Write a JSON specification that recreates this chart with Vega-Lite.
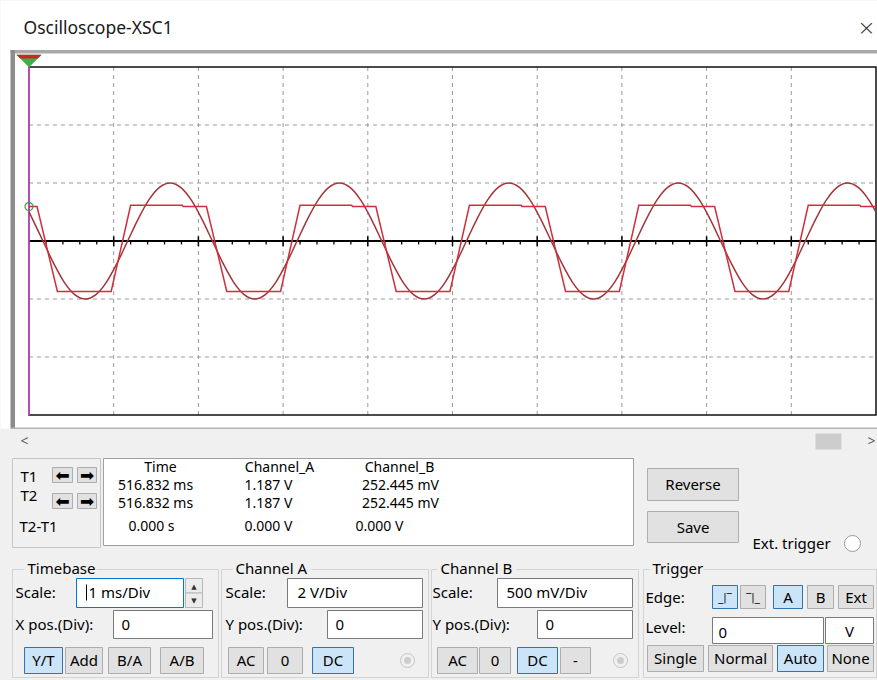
{
  "$schema": "https://vega.github.io/schema/vega-lite/v6.json",
  "width": 877,
  "height": 680,
  "padding": 0,
  "autosize": {"type": "none"},
  "background": "#f0f0f0",
  "config": {"view": {"stroke": null}, "text": {"font": "Noto Sans"}},
  "datasets": {
    "boxes": [
      {"x": 0, "x2": 877, "y": 0, "y2": 428, "kind": "white"},
      {"x": 10, "x2": 877, "y": 49.5, "y2": 53, "kind": "frameline"},
      {"x": 10, "x2": 14.5, "y": 49.5, "y2": 428, "kind": "leftbar"},
      {"x": 10, "x2": 877, "y": 427, "y2": 428.5, "kind": "hline"},
      {"x": 815, "x2": 841, "y": 433, "y2": 449, "kind": "thumb"},
      {"x": 12, "x2": 100, "y": 458, "y2": 547, "kind": "panelbox"},
      {"x": 103, "x2": 633, "y": 458, "y2": 545, "kind": "sunken"},
      {"x": 52, "x2": 72, "y": 467, "y2": 482, "kind": "button"},
      {"x": 77, "x2": 96, "y": 467, "y2": 482, "kind": "button"},
      {"x": 52, "x2": 72, "y": 493, "y2": 508, "kind": "button"},
      {"x": 77, "x2": 96, "y": 493, "y2": 508, "kind": "button"},
      {"x": 647, "x2": 738, "y": 468, "y2": 500, "kind": "button"},
      {"x": 647, "x2": 738, "y": 511, "y2": 542, "kind": "button"},
      {"x": 12, "x2": 218, "y": 569, "y2": 677, "kind": "group"},
      {"x": 221, "x2": 428, "y": 569, "y2": 677, "kind": "group"},
      {"x": 431, "x2": 638, "y": 569, "y2": 677, "kind": "group"},
      {"x": 643, "x2": 876, "y": 569, "y2": 677, "kind": "group"},
      {"x": 24, "x2": 96, "y": 561, "y2": 577, "kind": "labelbg"},
      {"x": 232, "x2": 311, "y": 561, "y2": 577, "kind": "labelbg"},
      {"x": 437, "x2": 516, "y": 561, "y2": 577, "kind": "labelbg"},
      {"x": 649, "x2": 703, "y": 561, "y2": 577, "kind": "labelbg"},
      {"x": 76, "x2": 183, "y": 578, "y2": 607, "kind": "focus"},
      {"x": 185, "x2": 202, "y": 578, "y2": 592.5, "kind": "spin"},
      {"x": 185, "x2": 202, "y": 592.5, "y2": 607, "kind": "spin"},
      {"x": 113, "x2": 212, "y": 610, "y2": 638, "kind": "input"},
      {"x": 287, "x2": 422, "y": 578, "y2": 607, "kind": "input"},
      {"x": 327, "x2": 422, "y": 610, "y2": 638, "kind": "input"},
      {"x": 497, "x2": 632, "y": 578, "y2": 607, "kind": "input"},
      {"x": 537, "x2": 632, "y": 610, "y2": 638, "kind": "input"},
      {"x": 712, "x2": 823, "y": 617, "y2": 643, "kind": "input"},
      {"x": 825, "x2": 873, "y": 617, "y2": 643, "kind": "input"},
      {"x": 24, "x2": 62, "y": 647, "y2": 673, "kind": "pressed"},
      {"x": 65, "x2": 102, "y": 647, "y2": 673, "kind": "button"},
      {"x": 108, "x2": 150, "y": 647, "y2": 673, "kind": "button"},
      {"x": 160, "x2": 203, "y": 647, "y2": 673, "kind": "button"},
      {"x": 228, "x2": 263, "y": 647, "y2": 673, "kind": "button"},
      {"x": 267, "x2": 302, "y": 647, "y2": 673, "kind": "button"},
      {"x": 312, "x2": 353, "y": 647, "y2": 673, "kind": "pressed"},
      {"x": 437, "x2": 477, "y": 647, "y2": 673, "kind": "button"},
      {"x": 479, "x2": 510, "y": 647, "y2": 673, "kind": "button"},
      {"x": 517, "x2": 557, "y": 647, "y2": 673, "kind": "pressed"},
      {"x": 560, "x2": 590, "y": 647, "y2": 673, "kind": "button"},
      {"x": 647, "x2": 703, "y": 645, "y2": 671, "kind": "button"},
      {"x": 708, "x2": 772, "y": 645, "y2": 671, "kind": "button"},
      {"x": 777, "x2": 823, "y": 645, "y2": 671, "kind": "pressed"},
      {"x": 827, "x2": 873, "y": 645, "y2": 671, "kind": "button"},
      {"x": 712, "x2": 737, "y": 585, "y2": 608, "kind": "pressed"},
      {"x": 740, "x2": 765, "y": 585, "y2": 608, "kind": "button"},
      {"x": 773, "x2": 802, "y": 585, "y2": 608, "kind": "pressed"},
      {"x": 807, "x2": 833, "y": 585, "y2": 608, "kind": "button"},
      {"x": 838, "x2": 873, "y": 585, "y2": 608, "kind": "button"},
      {"x": 85.5, "x2": 86.5, "y": 584, "y2": 600, "kind": "caret"}
    ],
    "labels": [
      {"text": "Oscilloscope-XSC1", "x": 23, "y": 28, "role": "title"},
      {"text": "×", "x": 866, "y": 27, "role": "close"},
      {"text": "<", "x": 24, "y": 441, "role": "scroll"},
      {"text": ">", "x": 871, "y": 441, "role": "scroll"},
      {"text": "T1", "x": 20, "y": 476, "role": "label"},
      {"text": "T2", "x": 20, "y": 495, "role": "label"},
      {"text": "T2-T1", "x": 19, "y": 526, "role": "label"},
      {"text": "Timebase", "x": 27, "y": 568, "role": "label"},
      {"text": "Channel A", "x": 235, "y": 568, "role": "label"},
      {"text": "Channel B", "x": 440, "y": 568, "role": "label"},
      {"text": "Trigger", "x": 652, "y": 568, "role": "label"},
      {"text": "Scale:", "x": 15, "y": 592, "role": "label"},
      {"text": "X pos.(Div):", "x": 15, "y": 624, "role": "label"},
      {"text": "Scale:", "x": 225, "y": 592, "role": "label"},
      {"text": "Y pos.(Div):", "x": 225, "y": 624, "role": "label"},
      {"text": "Scale:", "x": 432, "y": 592, "role": "label"},
      {"text": "Y pos.(Div):", "x": 432, "y": 624, "role": "label"},
      {"text": "Edge:", "x": 645, "y": 597, "role": "label"},
      {"text": "Level:", "x": 645, "y": 627, "role": "label"},
      {"text": "1 ms/Div", "x": 88, "y": 592, "role": "label"},
      {"text": "0", "x": 121, "y": 624, "role": "label"},
      {"text": "2  V/Div", "x": 297, "y": 592, "role": "label"},
      {"text": "0", "x": 335, "y": 624, "role": "label"},
      {"text": "500 mV/Div", "x": 506, "y": 592, "role": "label"},
      {"text": "0", "x": 545, "y": 624, "role": "label"},
      {"text": "0", "x": 718, "y": 632, "role": "label"},
      {"text": "Ext. trigger", "x": 752, "y": 543, "role": "label"},
      {"text": "Time", "x": 160, "y": 467, "role": "readout"},
      {"text": "516.832 ms", "x": 155, "y": 485, "role": "readout"},
      {"text": "516.832 ms", "x": 155, "y": 503, "role": "readout"},
      {"text": "0.000 s", "x": 151, "y": 526, "role": "readout"},
      {"text": "Channel_A", "x": 279, "y": 467, "role": "readout"},
      {"text": "1.187 V", "x": 268, "y": 485, "role": "readout"},
      {"text": "1.187 V", "x": 268, "y": 503, "role": "readout"},
      {"text": "0.000 V", "x": 268, "y": 526, "role": "readout"},
      {"text": "Channel_B", "x": 399, "y": 467, "role": "readout"},
      {"text": "252.445 mV", "x": 400, "y": 485, "role": "readout"},
      {"text": "252.445 mV", "x": 400, "y": 503, "role": "readout"},
      {"text": "0.000 V", "x": 379, "y": 526, "role": "readout"},
      {"text": "Y/T", "x": 43, "y": 660, "role": "center"},
      {"text": "Add", "x": 83.5, "y": 660, "role": "center"},
      {"text": "B/A", "x": 129, "y": 660, "role": "center"},
      {"text": "A/B", "x": 181.5, "y": 660, "role": "center"},
      {"text": "AC", "x": 245.5, "y": 660, "role": "center"},
      {"text": "0", "x": 284.5, "y": 660, "role": "center"},
      {"text": "DC", "x": 332.5, "y": 660, "role": "center"},
      {"text": "AC", "x": 457, "y": 660, "role": "center"},
      {"text": "0", "x": 494.5, "y": 660, "role": "center"},
      {"text": "DC", "x": 537, "y": 660, "role": "center"},
      {"text": "-", "x": 575, "y": 660, "role": "center"},
      {"text": "Single", "x": 675, "y": 658, "role": "center"},
      {"text": "Normal", "x": 740, "y": 658, "role": "center"},
      {"text": "Auto", "x": 800, "y": 658, "role": "center"},
      {"text": "None", "x": 850, "y": 658, "role": "center"},
      {"text": "A", "x": 787.5, "y": 597, "role": "center"},
      {"text": "B", "x": 820, "y": 597, "role": "center"},
      {"text": "Ext", "x": 855.5, "y": 597, "role": "center"},
      {"text": "V", "x": 849, "y": 631, "role": "center"},
      {"text": "Reverse", "x": 692.5, "y": 484, "role": "center"},
      {"text": "Save", "x": 692.5, "y": 527, "role": "center"},
      {"text": "⬅", "x": 62, "y": 475, "role": "arrow"},
      {"text": "➡", "x": 86.5, "y": 475, "role": "arrow"},
      {"text": "⬅", "x": 62, "y": 501, "role": "arrow"},
      {"text": "➡", "x": 86.5, "y": 501, "role": "arrow"},
      {"text": "▲", "x": 193.5, "y": 586, "role": "spin"},
      {"text": "▼", "x": 193.5, "y": 600, "role": "spin"},
      {"text": "_|‾", "x": 724.5, "y": 597, "role": "edge"},
      {"text": "‾|_", "x": 752.5, "y": 597, "role": "edge"}
    ],
    "radios": [
      {"x": 407, "y": 660, "kind": "disabled"},
      {"x": 620, "y": 660, "kind": "disabled"},
      {"x": 852, "y": 543, "kind": "ext"}
    ],
    "vgrid": [{"t": 1}, {"t": 2}, {"t": 3}, {"t": 4}, {"t": 5}, {"t": 6}, {"t": 7}, {"t": 8}, {"t": 9}],
    "hgrid": [{"d": -2}, {"d": -1}, {"d": 1}, {"d": 2}],
    "major": [{"t": 1}, {"t": 2}, {"t": 3}, {"t": 4}, {"t": 5}, {"t": 6}, {"t": 7}, {"t": 8}, {"t": 9}],
    "minor": [
      {"t": 0.2}, {"t": 0.4}, {"t": 0.6}, {"t": 0.8}, {"t": 1.2}, {"t": 1.4}, {"t": 1.6}, {"t": 1.8},
      {"t": 2.2}, {"t": 2.4}, {"t": 2.6}, {"t": 2.8}, {"t": 3.2}, {"t": 3.4}, {"t": 3.6}, {"t": 3.8},
      {"t": 4.2}, {"t": 4.4}, {"t": 4.6}, {"t": 4.8}, {"t": 5.2}, {"t": 5.4}, {"t": 5.6}, {"t": 5.8},
      {"t": 6.2}, {"t": 6.4}, {"t": 6.6}, {"t": 6.8}, {"t": 7.2}, {"t": 7.4}, {"t": 7.6}, {"t": 7.8},
      {"t": 8.2}, {"t": 8.4}, {"t": 8.6}, {"t": 8.8}, {"t": 9.2}, {"t": 9.4}, {"t": 9.6}, {"t": 9.8}
    ],
    "chA": [
      {"t": 0, "volts": 1.187},
      {"t": 0.095, "volts": 1.187}, {"t": 0.335, "volts": -1.74}, {"t": 0.97, "volts": -1.74}, {"t": 1.2, "volts": 1.23}, {"t": 1.81, "volts": 1.23}, {"t": 1.82, "volts": 1.187},
      {"t": 2.095, "volts": 1.187}, {"t": 2.335, "volts": -1.74}, {"t": 2.97, "volts": -1.74}, {"t": 3.2, "volts": 1.23}, {"t": 3.81, "volts": 1.23}, {"t": 3.82, "volts": 1.187},
      {"t": 4.095, "volts": 1.187}, {"t": 4.335, "volts": -1.74}, {"t": 4.97, "volts": -1.74}, {"t": 5.2, "volts": 1.23}, {"t": 5.81, "volts": 1.23}, {"t": 5.82, "volts": 1.187},
      {"t": 6.095, "volts": 1.187}, {"t": 6.335, "volts": -1.74}, {"t": 6.97, "volts": -1.74}, {"t": 7.2, "volts": 1.23}, {"t": 7.81, "volts": 1.23}, {"t": 7.82, "volts": 1.187},
      {"t": 8.095, "volts": 1.187}, {"t": 8.335, "volts": -1.74}, {"t": 8.97, "volts": -1.74}, {"t": 9.2, "volts": 1.23}, {"t": 9.81, "volts": 1.23}, {"t": 9.82, "volts": 1.187},
      {"t": 10, "volts": 1.187}
    ],
    "chB": [
      {"t": 0, "volts": 0.252},
      {"t": 0.04, "volts": 0.191}, {"t": 0.165, "volts": 0}, {"t": 0.29, "volts": -0.191}, {"t": 0.415, "volts": -0.354}, {"t": 0.54, "volts": -0.462}, {"t": 0.665, "volts": -0.5}, {"t": 0.79, "volts": -0.462}, {"t": 0.915, "volts": -0.354},
      {"t": 1.04, "volts": -0.191}, {"t": 1.165, "volts": 0}, {"t": 1.29, "volts": 0.191}, {"t": 1.415, "volts": 0.354}, {"t": 1.54, "volts": 0.462}, {"t": 1.665, "volts": 0.5}, {"t": 1.79, "volts": 0.462}, {"t": 1.915, "volts": 0.354},
      {"t": 2.04, "volts": 0.191}, {"t": 2.165, "volts": 0}, {"t": 2.29, "volts": -0.191}, {"t": 2.415, "volts": -0.354}, {"t": 2.54, "volts": -0.462}, {"t": 2.665, "volts": -0.5}, {"t": 2.79, "volts": -0.462}, {"t": 2.915, "volts": -0.354},
      {"t": 3.04, "volts": -0.191}, {"t": 3.165, "volts": 0}, {"t": 3.29, "volts": 0.191}, {"t": 3.415, "volts": 0.354}, {"t": 3.54, "volts": 0.462}, {"t": 3.665, "volts": 0.5}, {"t": 3.79, "volts": 0.462}, {"t": 3.915, "volts": 0.354},
      {"t": 4.04, "volts": 0.191}, {"t": 4.165, "volts": 0}, {"t": 4.29, "volts": -0.191}, {"t": 4.415, "volts": -0.354}, {"t": 4.54, "volts": -0.462}, {"t": 4.665, "volts": -0.5}, {"t": 4.79, "volts": -0.462}, {"t": 4.915, "volts": -0.354},
      {"t": 5.04, "volts": -0.191}, {"t": 5.165, "volts": 0}, {"t": 5.29, "volts": 0.191}, {"t": 5.415, "volts": 0.354}, {"t": 5.54, "volts": 0.462}, {"t": 5.665, "volts": 0.5}, {"t": 5.79, "volts": 0.462}, {"t": 5.915, "volts": 0.354},
      {"t": 6.04, "volts": 0.191}, {"t": 6.165, "volts": 0}, {"t": 6.29, "volts": -0.191}, {"t": 6.415, "volts": -0.354}, {"t": 6.54, "volts": -0.462}, {"t": 6.665, "volts": -0.5}, {"t": 6.79, "volts": -0.462}, {"t": 6.915, "volts": -0.354},
      {"t": 7.04, "volts": -0.191}, {"t": 7.165, "volts": 0}, {"t": 7.29, "volts": 0.191}, {"t": 7.415, "volts": 0.354}, {"t": 7.54, "volts": 0.462}, {"t": 7.665, "volts": 0.5}, {"t": 7.79, "volts": 0.462}, {"t": 7.915, "volts": 0.354},
      {"t": 8.04, "volts": 0.191}, {"t": 8.165, "volts": 0}, {"t": 8.29, "volts": -0.191}, {"t": 8.415, "volts": -0.354}, {"t": 8.54, "volts": -0.462}, {"t": 8.665, "volts": -0.5}, {"t": 8.79, "volts": -0.462}, {"t": 8.915, "volts": -0.354},
      {"t": 9.04, "volts": -0.191}, {"t": 9.165, "volts": 0}, {"t": 9.29, "volts": 0.191}, {"t": 9.415, "volts": 0.354}, {"t": 9.54, "volts": 0.462}, {"t": 9.665, "volts": 0.5}, {"t": 9.79, "volts": 0.462}, {"t": 9.915, "volts": 0.354},
      {"t": 10, "volts": 0.248}
    ]
  },
  "layer": [
    {
      "layer": [
        {
          "data": {"name": "boxes"},
          "mark": {"type": "rect", "strokeWidth": 1},
          "encoding": {
            "x": {"field": "x", "type": "quantitative", "scale": {"domain": [-0.5, 876.5], "nice": false, "zero": false}, "axis": null},
            "x2": {"field": "x2"},
            "y": {"field": "y", "type": "quantitative", "scale": {"domain": [-0.5, 679.5], "reverse": true, "nice": false, "zero": false}, "axis": null},
            "y2": {"field": "y2"},
            "fill": {"field": "kind", "type": "nominal", "legend": null, "scale": {
              "domain": ["white", "frameline", "leftbar", "hline", "thumb", "panelbox", "sunken", "group", "labelbg", "input", "focus", "spin", "button", "pressed", "caret"],
              "range": ["#ffffff", "#a9a9a9", "#8c8c8c", "#b4b4b4", "#cdcdcd", "#f0f0f0", "#ffffff", "rgba(0,0,0,0)", "#f0f0f0", "#ffffff", "#ffffff", "#ececec", "#e1e1e1", "#cce4f7", "#000000"]}},
            "stroke": {"field": "kind", "type": "nominal", "legend": null, "scale": {
              "domain": ["white", "frameline", "leftbar", "hline", "thumb", "panelbox", "sunken", "group", "labelbg", "input", "focus", "spin", "button", "pressed", "caret"],
              "range": ["rgba(0,0,0,0)", "rgba(0,0,0,0)", "rgba(0,0,0,0)", "rgba(0,0,0,0)", "rgba(0,0,0,0)", "#c6c6c6", "#a0a0a0", "#d3d3d3", "rgba(0,0,0,0)", "#7a7a7a", "#0078d7", "#b8b8b8", "#adadad", "#2f73b0", "rgba(0,0,0,0)"]}}
          }
        },
        {
          "data": {"name": "radios"},
          "transform": [{"filter": "datum.kind === 'disabled'"}],
          "mark": {"type": "point", "shape": "circle", "filled": true, "fill": "#f0f0f0", "stroke": "#c4c4c4", "strokeWidth": 1, "size": 196, "opacity": 1},
          "encoding": {
            "x": {"field": "x", "type": "quantitative", "scale": {"domain": [-0.5, 876.5], "nice": false, "zero": false}, "axis": null},
            "y": {"field": "y", "type": "quantitative", "scale": {"domain": [-0.5, 679.5], "reverse": true, "nice": false, "zero": false}, "axis": null}
          }
        },
        {
          "data": {"name": "radios"},
          "transform": [{"filter": "datum.kind === 'disabled'"}],
          "mark": {"type": "point", "shape": "circle", "filled": true, "color": "#cdcdcd", "size": 49, "opacity": 1},
          "encoding": {
            "x": {"field": "x", "type": "quantitative", "scale": {"domain": [-0.5, 876.5], "nice": false, "zero": false}, "axis": null},
            "y": {"field": "y", "type": "quantitative", "scale": {"domain": [-0.5, 679.5], "reverse": true, "nice": false, "zero": false}, "axis": null}
          }
        },
        {
          "data": {"name": "radios"},
          "transform": [{"filter": "datum.kind === 'ext'"}],
          "mark": {"type": "point", "shape": "circle", "filled": true, "fill": "#ffffff", "stroke": "#9a9a9a", "strokeWidth": 1, "size": 256, "opacity": 1},
          "encoding": {
            "x": {"field": "x", "type": "quantitative", "scale": {"domain": [-0.5, 876.5], "nice": false, "zero": false}, "axis": null},
            "y": {"field": "y", "type": "quantitative", "scale": {"domain": [-0.5, 679.5], "reverse": true, "nice": false, "zero": false}, "axis": null}
          }
        },
        {
          "data": {"name": "labels"},
          "transform": [{"filter": "datum.role === 'label'"}],
          "mark": {"type": "text", "align": "left", "baseline": "middle", "fontSize": 15, "color": "#000000"},
          "encoding": {
            "x": {"field": "x", "type": "quantitative", "scale": {"domain": [-0.5, 876.5], "nice": false, "zero": false}, "axis": null},
            "y": {"field": "y", "type": "quantitative", "scale": {"domain": [-0.5, 679.5], "reverse": true, "nice": false, "zero": false}, "axis": null},
            "text": {"field": "text"}
          }
        },
        {
          "data": {"name": "labels"},
          "transform": [{"filter": "datum.role === 'center'"}],
          "mark": {"type": "text", "align": "center", "baseline": "middle", "fontSize": 15, "color": "#000000"},
          "encoding": {
            "x": {"field": "x", "type": "quantitative", "scale": {"domain": [-0.5, 876.5], "nice": false, "zero": false}, "axis": null},
            "y": {"field": "y", "type": "quantitative", "scale": {"domain": [-0.5, 679.5], "reverse": true, "nice": false, "zero": false}, "axis": null},
            "text": {"field": "text"}
          }
        },
        {
          "data": {"name": "labels"},
          "transform": [{"filter": "datum.role === 'readout'"}],
          "mark": {"type": "text", "align": "center", "baseline": "middle", "fontSize": 14, "color": "#000000"},
          "encoding": {
            "x": {"field": "x", "type": "quantitative", "scale": {"domain": [-0.5, 876.5], "nice": false, "zero": false}, "axis": null},
            "y": {"field": "y", "type": "quantitative", "scale": {"domain": [-0.5, 679.5], "reverse": true, "nice": false, "zero": false}, "axis": null},
            "text": {"field": "text"}
          }
        },
        {
          "data": {"name": "labels"},
          "transform": [{"filter": "datum.role === 'arrow'"}],
          "mark": {"type": "text", "align": "center", "baseline": "middle", "fontSize": 17, "font": "DejaVu Sans", "color": "#000000"},
          "encoding": {
            "x": {"field": "x", "type": "quantitative", "scale": {"domain": [-0.5, 876.5], "nice": false, "zero": false}, "axis": null},
            "y": {"field": "y", "type": "quantitative", "scale": {"domain": [-0.5, 679.5], "reverse": true, "nice": false, "zero": false}, "axis": null},
            "text": {"field": "text"}
          }
        },
        {
          "data": {"name": "labels"},
          "transform": [{"filter": "datum.role === 'spin'"}],
          "mark": {"type": "text", "align": "center", "baseline": "middle", "fontSize": 7, "font": "DejaVu Sans", "color": "#333333"},
          "encoding": {
            "x": {"field": "x", "type": "quantitative", "scale": {"domain": [-0.5, 876.5], "nice": false, "zero": false}, "axis": null},
            "y": {"field": "y", "type": "quantitative", "scale": {"domain": [-0.5, 679.5], "reverse": true, "nice": false, "zero": false}, "axis": null},
            "text": {"field": "text"}
          }
        },
        {
          "data": {"name": "labels"},
          "transform": [{"filter": "datum.role === 'edge'"}],
          "mark": {"type": "text", "align": "center", "baseline": "middle", "fontSize": 10, "font": "DejaVu Sans", "color": "#000000", "letterSpacing": -1.5},
          "encoding": {
            "x": {"field": "x", "type": "quantitative", "scale": {"domain": [-0.5, 876.5], "nice": false, "zero": false}, "axis": null},
            "y": {"field": "y", "type": "quantitative", "scale": {"domain": [-0.5, 679.5], "reverse": true, "nice": false, "zero": false}, "axis": null},
            "text": {"field": "text"}
          }
        },
        {
          "data": {"name": "labels"},
          "transform": [{"filter": "datum.role === 'title'"}],
          "mark": {"type": "text", "align": "left", "baseline": "middle", "fontSize": 17.5, "color": "#1a1a1a"},
          "encoding": {
            "x": {"field": "x", "type": "quantitative", "scale": {"domain": [-0.5, 876.5], "nice": false, "zero": false}, "axis": null},
            "y": {"field": "y", "type": "quantitative", "scale": {"domain": [-0.5, 679.5], "reverse": true, "nice": false, "zero": false}, "axis": null},
            "text": {"field": "text"}
          }
        },
        {
          "data": {"name": "labels"},
          "transform": [{"filter": "datum.role === 'close'"}],
          "mark": {"type": "text", "align": "center", "baseline": "middle", "fontSize": 22, "font": "DejaVu Sans", "fontWeight": 200, "color": "#333333"},
          "encoding": {
            "x": {"field": "x", "type": "quantitative", "scale": {"domain": [-0.5, 876.5], "nice": false, "zero": false}, "axis": null},
            "y": {"field": "y", "type": "quantitative", "scale": {"domain": [-0.5, 679.5], "reverse": true, "nice": false, "zero": false}, "axis": null},
            "text": {"field": "text"}
          }
        },
        {
          "data": {"name": "labels"},
          "transform": [{"filter": "datum.role === 'scroll'"}],
          "mark": {"type": "text", "align": "center", "baseline": "middle", "fontSize": 14, "color": "#606060"},
          "encoding": {
            "x": {"field": "x", "type": "quantitative", "scale": {"domain": [-0.5, 876.5], "nice": false, "zero": false}, "axis": null},
            "y": {"field": "y", "type": "quantitative", "scale": {"domain": [-0.5, 679.5], "reverse": true, "nice": false, "zero": false}, "axis": null},
            "text": {"field": "text"}
          }
        }
      ]
    },
    {
      "layer": [
        {
          "layer": [
            {
              "data": {"name": "vgrid"},
              "mark": {"type": "rule", "color": "#9a9a9a", "strokeDash": [4, 4], "strokeWidth": 1},
              "encoding": {
                "x": {"field": "t", "type": "quantitative", "scale": {"domain": [-0.34238, 10.01181], "nice": false, "zero": false}, "axis": null},
                "y": {"datum": -3, "type": "quantitative", "scale": {"domain": [-7.569, 4.1552], "nice": false, "zero": false}, "axis": null},
                "y2": {"datum": 3}
              }
            },
            {
              "data": {"name": "hgrid"},
              "mark": {"type": "rule", "color": "#9a9a9a", "strokeDash": [4, 4], "strokeWidth": 1},
              "encoding": {
                "x": {"datum": 0, "type": "quantitative", "scale": {"domain": [-0.34238, 10.01181], "nice": false, "zero": false}, "axis": null},
                "x2": {"datum": 10},
                "y": {"field": "d", "type": "quantitative", "scale": {"domain": [-7.569, 4.1552], "nice": false, "zero": false}, "axis": null}
              }
            },
            {
              "data": {"values": [{}]},
              "mark": {"type": "rect", "fillOpacity": 0, "stroke": "#111111", "strokeWidth": 1.5},
              "encoding": {
                "x": {"datum": 0, "type": "quantitative", "scale": {"domain": [-0.34238, 10.01181], "nice": false, "zero": false}, "axis": null},
                "x2": {"datum": 10},
                "y": {"datum": -3, "type": "quantitative", "scale": {"domain": [-7.569, 4.1552], "nice": false, "zero": false}, "axis": null},
                "y2": {"datum": 3}
              }
            },
            {
              "data": {"values": [{}]},
              "mark": {"type": "rule", "color": "#000000", "strokeWidth": 2},
              "encoding": {
                "x": {"datum": 0, "type": "quantitative", "scale": {"domain": [-0.34238, 10.01181], "nice": false, "zero": false}, "axis": null},
                "x2": {"datum": 10},
                "y": {"datum": 0, "type": "quantitative", "scale": {"domain": [-7.569, 4.1552], "nice": false, "zero": false}, "axis": null}
              }
            },
            {
              "data": {"name": "minor"},
              "mark": {"type": "rule", "color": "#000000", "strokeWidth": 1.3},
              "encoding": {
                "x": {"field": "t", "type": "quantitative", "scale": {"domain": [-0.34238, 10.01181], "nice": false, "zero": false}, "axis": null},
                "y": {"datum": 0, "type": "quantitative", "scale": {"domain": [-7.569, 4.1552], "nice": false, "zero": false}, "axis": null},
                "y2": {"datum": -0.06}
              }
            },
            {
              "data": {"name": "major"},
              "mark": {"type": "rule", "color": "#000000", "strokeWidth": 1.5},
              "encoding": {
                "x": {"field": "t", "type": "quantitative", "scale": {"domain": [-0.34238, 10.01181], "nice": false, "zero": false}, "axis": null},
                "y": {"datum": 0.08, "type": "quantitative", "scale": {"domain": [-7.569, 4.1552], "nice": false, "zero": false}, "axis": null},
                "y2": {"datum": -0.09}
              }
            },
            {
              "data": {"values": [{}]},
              "mark": {"type": "rule", "color": "#d64fd6", "strokeWidth": 1.5},
              "encoding": {
                "x": {"datum": 0, "type": "quantitative", "scale": {"domain": [-0.34238, 10.01181], "nice": false, "zero": false}, "axis": null},
                "y": {"datum": -3, "type": "quantitative", "scale": {"domain": [-7.569, 4.1552], "nice": false, "zero": false}, "axis": null},
                "y2": {"datum": 3}
              }
            },
            {
              "data": {"values": [{}]},
              "mark": {"type": "point", "shape": "M-1,-0.5L1,-0.5L0,0.5Z", "filled": true, "color": "#3fae49", "size": 625, "opacity": 1},
              "encoding": {
                "x": {"datum": 0, "type": "quantitative", "scale": {"domain": [-0.34238, 10.01181], "nice": false, "zero": false}, "axis": null},
                "y": {"datum": 3.103, "type": "quantitative", "scale": {"domain": [-7.569, 4.1552], "nice": false, "zero": false}, "axis": null}
              }
            },
            {
              "data": {"values": [{}]},
              "mark": {"type": "point", "shape": "M-1,-0.5L1,-0.5L0.7,-0.2L-0.7,-0.2Z", "filled": true, "color": "#c62828", "size": 625, "opacity": 1},
              "encoding": {
                "x": {"datum": 0, "type": "quantitative", "scale": {"domain": [-0.34238, 10.01181], "nice": false, "zero": false}, "axis": null},
                "y": {"datum": 3.103, "type": "quantitative", "scale": {"domain": [-7.569, 4.1552], "nice": false, "zero": false}, "axis": null}
              }
            }
          ]
        },
        {
          "data": {"name": "chB"},
          "mark": {"type": "line", "color": "#a3353a", "strokeWidth": 1.5, "interpolate": "monotone"},
          "encoding": {
            "x": {"field": "t", "type": "quantitative", "scale": {"domain": [-0.34238, 10.01181], "nice": false, "zero": false}, "axis": null},
            "y": {"field": "volts", "type": "quantitative", "scale": {"domain": [-3.7845, 2.0776], "nice": false, "zero": false}, "axis": null}
          }
        },
        {
          "data": {"name": "chA"},
          "mark": {"type": "line", "color": "#cf2f3c", "strokeWidth": 1.5},
          "encoding": {
            "x": {"field": "t", "type": "quantitative", "scale": {"domain": [-0.34238, 10.01181], "nice": false, "zero": false}, "axis": null},
            "y": {"field": "volts", "type": "quantitative", "scale": {"domain": [-15.138, 8.3104], "nice": false, "zero": false}, "axis": null}
          }
        },
        {
          "data": {"values": [{"t": 0, "volts": 1.187}]},
          "mark": {"type": "point", "shape": "circle", "filled": false, "color": "#3c9c3c", "size": 64, "strokeWidth": 1.2, "opacity": 1},
          "encoding": {
            "x": {"field": "t", "type": "quantitative", "scale": {"domain": [-0.34238, 10.01181], "nice": false, "zero": false}, "axis": null},
            "y": {"field": "volts", "type": "quantitative", "scale": {"domain": [-15.138, 8.3104], "nice": false, "zero": false}, "axis": null}
          }
        }
      ],
      "resolve": {"scale": {"y": "independent"}}
    }
  ],
  "resolve": {"scale": {"x": "independent", "y": "independent"}}
}
